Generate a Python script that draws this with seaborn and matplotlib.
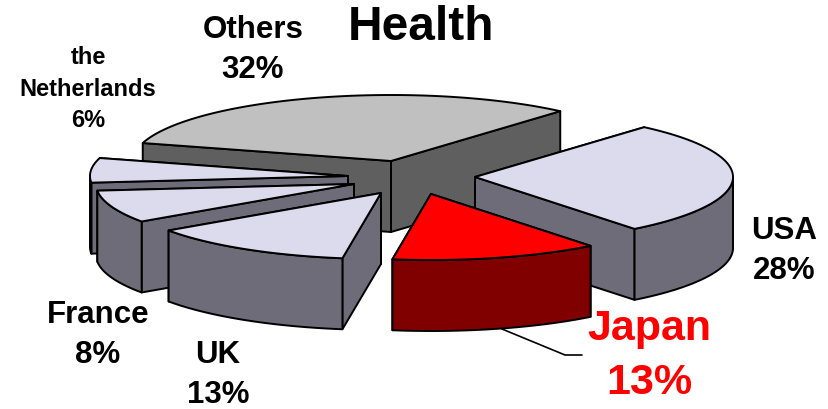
import numpy as np
import matplotlib
matplotlib.use("Agg")
import matplotlib.pyplot as plt
import seaborn as sns

# Chart data
# -----------------------------------------------------------------------
countries = ['Others', 'USA', 'Japan', 'UK', 'France', 'the\nNetherlands']
shares = [32, 28, 13, 13, 8, 6]

# Layout of the fake 3D pie (pixels of the 829x409 canvas)
# -----------------------------------------------------------------------
CENTER_X, CENTER_Y = 405, 176
RADIUS_X, RADIUS_Y = 258, 66
DEPTH = 71
START_ANGLE = -74.2
explode_x = [-14, 70, 26, -24, -51, -57]
explode_y = [-15, 1, 18, 17, 8, 0]
draw_order = ['Others', 'USA', 'the\nNetherlands', 'France', 'UK', 'Japan']

LAVENDER = ('#DCDBEE', '#6E6C79')
face_colors = {'Others': ('#C0C0C0', '#5F5F5F'), 'USA': LAVENDER,
               'Japan': ('#FF0000', '#800000'), 'UK': LAVENDER,
               'France': LAVENDER, 'the\nNetherlands': LAVENDER}

label_x = [253, 784, 649, 218, 98, 88]
label_y = [50, 251, 356, 375, 335, 89]
label_size = [22.5, 22.5, 31, 22.5, 22.5, 17]
label_spacing = [1.45, 1.45, 1.42, 1.4, 1.45, 1.48]

sns.set_theme(style='white')
plt.rcParams['font.family'] = ['Liberation Sans', 'DejaVu Sans']


def arc(theta1, theta2, apex_x, apex_y, drop=0):
    # theta runs clockwise from the back of the pie
    t = np.radians(np.linspace(theta1, theta2, 80))
    return apex_x + RADIUS_X * np.sin(t), apex_y - RADIUS_Y * np.cos(t) + drop


def draw_poly(ax, xs, ys, color):
    ax.fill(xs, ys, facecolor=color, edgecolor='black', linewidth=1.4, joinstyle='round')


def draw_slice(ax, theta1, theta2, apex_x, apex_y, colors):
    top, wall = colors
    xs, ys = arc(theta1, theta2, apex_x, apex_y)

    # Radial faces first, the end nearer the viewer goes last
    ends = sorted([(ys[0], xs[0]), (ys[-1], xs[-1])])
    for end_y, end_x in ends:
        draw_poly(ax, [apex_x, end_x, end_x, apex_x],
                  [apex_y, end_y, end_y + DEPTH, apex_y + DEPTH], wall)

    # Outer wall, only the part facing the viewer
    low, high = max(theta1, 90), min(theta2, 270)
    if low < high:
        wx, wy = arc(low, high, apex_x, apex_y)
        draw_poly(ax, np.r_[wx, wx[::-1]], np.r_[wy, wy[::-1] + DEPTH], wall)

    draw_poly(ax, np.r_[apex_x, xs], np.r_[apex_y, ys], top)


fig, ax = plt.subplots(figsize=(8.29, 4.09), dpi=100)
ax.set_position([0, 0, 1, 1])
ax.set_xlim(0, 829)
ax.set_ylim(409, 0)
ax.axis('off')

# Slice angles from the shares
edges = START_ANGLE + np.cumsum([0] + shares) * 3.6
angles = {c: (edges[i], edges[i + 1]) for i, c in enumerate(countries)}
apexes = {c: (CENTER_X + explode_x[i], CENTER_Y + explode_y[i]) for i, c in enumerate(countries)}

for country in draw_order:
    draw_slice(ax, *angles[country], *apexes[country], face_colors[country])

# Leader line of the Japan label
sns.lineplot(x=[502, 565, 582], y=[329, 355, 355], sort=False, estimator=None,
             color='black', linewidth=1.2, ax=ax, legend=False)

ax.text(421, 28, 'Health', fontsize=34.5, fontweight='bold', ha='center', va='center', color='black')

for i, country in enumerate(countries):
    color = 'red' if country == 'Japan' else 'black'
    ax.text(label_x[i], label_y[i], f'{country}\n{shares[i]}%', fontsize=label_size[i],
            fontweight='bold', color=color, ha='center', va='center', linespacing=label_spacing[i])

fig.savefig('out.png', dpi=100)
